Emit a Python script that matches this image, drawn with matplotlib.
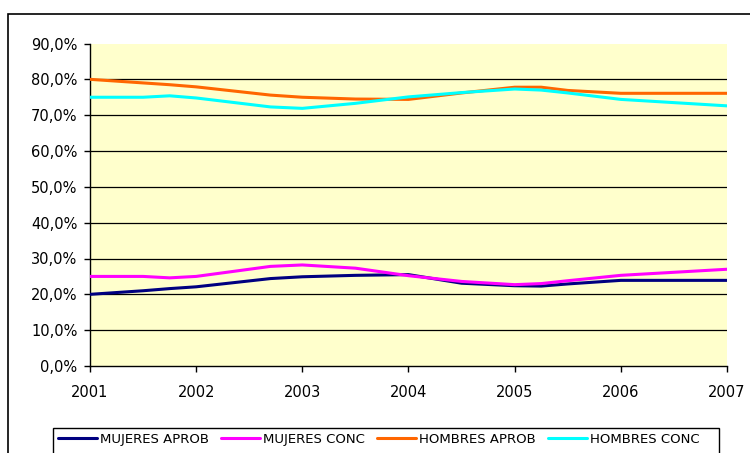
import matplotlib
matplotlib.use("Agg")
import matplotlib.pyplot as plt
from matplotlib.patches import Rectangle

# Data (fractional years)
x_pos = [2001, 2001.5, 2001.75, 2002, 2002.7, 2003, 2003.5, 2004, 2004.5, 2005, 2005.25, 2005.5, 2006, 2007]
mujeres_aprob = [20.0, 21.0, 21.6, 22.1, 24.4, 24.9, 25.3, 25.5, 23.1, 22.4, 22.3, 22.9, 23.9, 23.9]
mujeres_conc = [25.0, 25.0, 24.6, 25.0, 27.8, 28.2, 27.3, 25.2, 23.6, 22.7, 23.0, 23.8, 25.3, 27.0]
hombres_aprob = [80.0, 79.0, 78.5, 77.9, 75.6, 75.0, 74.5, 74.4, 76.2, 77.8, 77.8, 76.9, 76.1, 76.1]
hombres_conc = [75.0, 75.0, 75.4, 74.8, 72.3, 71.9, 73.3, 75.1, 76.3, 77.3, 77.0, 76.2, 74.4, 72.6]

series_names = ["MUJERES APROB", "MUJERES CONC", "HOMBRES APROB", "HOMBRES CONC"]
series_values = [mujeres_aprob, mujeres_conc, hombres_aprob, hombres_conc]
series_colors = ["#000080", "#FF00FF", "#FF6600", "#00FFFF"]

x_ticks = [2001, 2002, 2003, 2004, 2005, 2006, 2007]
y_ticks = [0, 10, 20, 30, 40, 50, 60, 70, 80, 90]
grid_values = [10, 20, 30, 40, 50, 60, 70, 80]

plt.rcParams['font.family'] = ['DejaVu Sans']

W, H = 750, 453
fig = plt.figure(figsize=(W / 100, H / 100), dpi=100)

# outer chart border
fig.patches.append(Rectangle((8 / W, -0.05), 1.2, 1 - 14 / H + 0.05, transform=fig.transFigure,
                             fill=False, edgecolor="black", linewidth=1.2, zorder=0))
# legend box (runs past the bottom edge)
fig.patches.append(Rectangle((53 / W, -0.05), (719 - 53) / W, 1 - 428 / H + 0.05,
                             transform=fig.transFigure, facecolor="white",
                             edgecolor="black", linewidth=1.0, zorder=1))

ax = fig.add_axes([90 / W, 1 - 366 / H, (727 - 90) / W, (366 - 43.5) / H])
ax.set_facecolor("#FFFFCC")

for g in grid_values:
    ax.axhline(g, color="black", linewidth=0.9, zorder=1)

for name, vals, col in zip(series_names, series_values, series_colors):
    ax.plot(x_pos, vals, color=col, linewidth=2.2, label=name, zorder=3,
            solid_joinstyle="round", solid_capstyle="round")

ax.set_xlim(2001, 2007)
ax.set_ylim(0, 90)
ax.set_xticks(x_ticks)
ax.set_xticklabels([str(t) for t in x_ticks])
ax.set_yticks(y_ticks)
ax.set_yticklabels([f"{t:.1f}%".replace(".", ",") for t in y_ticks])

for s in ["top", "right"]:
    ax.spines[s].set_visible(False)
for s in ["left", "bottom"]:
    ax.spines[s].set_color("black")
    ax.spines[s].set_linewidth(1.0)

ax.tick_params(axis="both", direction="out", length=4, width=1.0, colors="black",
               labelsize=10.5)
ax.tick_params(axis="y", pad=5)
ax.tick_params(axis="x", pad=10)

leg = fig.legend(loc="upper left", bbox_to_anchor=(53 / W, 1 - 428 / H), ncol=4,
                 frameon=False, fontsize=9.5, handlelength=3.0, handletextpad=0.2,
                 columnspacing=0.9, borderpad=0.35, borderaxespad=0)
leg.set_zorder(5)
for line in leg.get_lines():
    line.set_linewidth(2.2)

fig.savefig("out.png", dpi=100)
